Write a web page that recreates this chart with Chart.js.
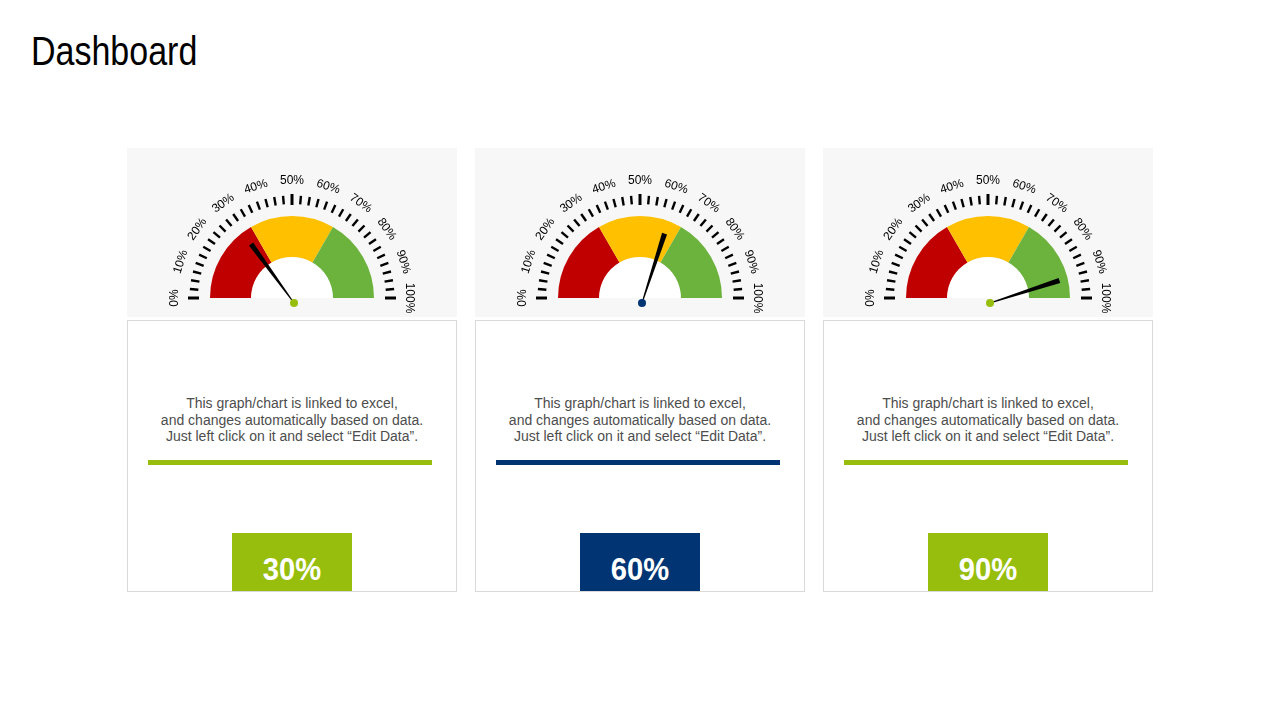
<!DOCTYPE html>
<html>
<head>
<meta charset="utf-8">
<script src="https://cdn.jsdelivr.net/npm/chart.js@4.4.1/dist/chart.umd.min.js"></script>
<style>
  body { margin: 0; width: 1280px; height: 720px; background: #fff; position: relative; overflow: hidden;
         font-family: "Liberation Sans", Arial, sans-serif; }
  h1 { position: absolute; left: 31px; top: 31px; margin: 0; font-weight: normal; font-size: 40px; line-height: 40px;
       font-family: "Liberation Sans", Arial, sans-serif; color: #000;
       transform: scaleX(0.85); transform-origin: 0 0; }
  .panel { position: absolute; top: 148px; width: 330px; height: 169px; background: #f7f7f7; }
  .panel canvas { display: block; }
  .card { position: absolute; top: 320px; width: 328px; height: 270px; border: 1px solid #d9d9d9; background: #fff; }
  .card p { position: absolute; left: 0; right: 0; top: 74px; margin: 0; text-align: center;
            font-size: 14px; line-height: 16.5px; color: #4d4d4d; }
  .card .rule { position: absolute; left: 20px; width: 284px; top: 139px; height: 5px; }
  .card .box { position: absolute; left: 104px; width: 120px; top: 212px; height: 58px; color: #fff;
               font-weight: bold; font-size: 31px; line-height: 58px; text-align: center; }
  .card .box span { position: relative; top: 8px; display: inline-block; transform: scaleX(0.94); }
</style>
</head>
<body>
<h1>Dashboard</h1>
<div id="wrap"></div>
<script>
// gauge readings (percent)
const gaugeValues = [30, 60, 90];
const accentColors = ['#97be0d', '#003473', '#97be0d'];
// dial zones
const zoneLabels = ['Low', 'Medium', 'High'];
const zoneShares = [33.33, 33.33, 33.34];
const zoneColors = ['#c00000', '#ffc000', '#6cb33e'];
// dial labels every 10%
const tickLabels = ['0%', '10%', '20%', '30%', '40%', '50%', '60%', '70%', '80%', '90%', '100%'];
const caption = 'This graph/chart is linked to excel,<br>and changes automatically based on data.<br>Just left click on it and select \u201cEdit Data\u201d.';

const panelLeft = [127, 475, 823];

const dialPlugin = {
  id: 'dial',
  beforeDatasetsDraw(chart) {
    const arc = chart.getDatasetMeta(0).data[0];
    const ctx = chart.ctx;
    ctx.save();
    ctx.fillStyle = '#ffffff';
    ctx.beginPath();
    ctx.arc(arc.x, arc.y, arc.innerRadius, Math.PI, 2 * Math.PI);
    ctx.closePath();
    ctx.fill();
    ctx.restore();
  },
  afterDatasetsDraw(chart, args, opts) {
    const arc = chart.getDatasetMeta(0).data[0];
    const ctx = chart.ctx;
    const cx = arc.x, cy = arc.y, R = arc.outerRadius;
    ctx.save();
    // ticks
    ctx.strokeStyle = '#000';
    ctx.lineCap = 'butt';
    for (let i = 0; i <= 36; i++) {
      const a = Math.PI + i * Math.PI / 36;
      const major = i % 18 === 0;
      const r0 = R + (major ? 11 : 12), r1 = R + (major ? 22 : 20.5);
      ctx.lineWidth = major ? 3 : 2.4;
      ctx.beginPath();
      ctx.moveTo(cx + Math.cos(a) * r0, cy + Math.sin(a) * r0);
      ctx.lineTo(cx + Math.cos(a) * r1, cy + Math.sin(a) * r1);
      ctx.stroke();
    }
    // labels
    ctx.fillStyle = '#000';
    ctx.font = '12px "Liberation Sans", Arial, sans-serif';
    ctx.textAlign = 'center';
    ctx.textBaseline = 'middle';
    const LR = R + 35;
    tickLabels.forEach((t, i) => {
      const a = Math.PI + (i / (tickLabels.length - 1)) * Math.PI;
      ctx.save();
      ctx.translate(cx + Math.cos(a) * LR, cy + Math.sin(a) * LR);
      ctx.rotate(a + Math.PI / 2);
      ctx.fillText(t, 0, 0);
      ctx.restore();
    });
    // needle
    const v = opts.value;
    const a = Math.PI + (v / 100) * Math.PI;
    const px = cx + 2, py = cy + 5;
    const len = 73;
    const ux = Math.cos(a), uy = Math.sin(a);
    const nx = -uy, ny = ux;
    ctx.fillStyle = '#000';
    ctx.beginPath();
    ctx.moveTo(px + nx * 0.5, py + ny * 0.5);
    ctx.lineTo(px + ux * len + nx * 2.6, py + uy * len + ny * 2.6);
    ctx.lineTo(px + ux * len - nx * 2.6, py + uy * len - ny * 2.6);
    ctx.lineTo(px - nx * 0.5, py - ny * 0.5);
    ctx.closePath();
    ctx.fill();
    ctx.fillStyle = opts.color;
    ctx.beginPath();
    ctx.arc(px, py, 4, 0, 2 * Math.PI);
    ctx.fill();
    ctx.restore();
  }
};

const wrap = document.getElementById('wrap');
gaugeValues.forEach((val, k) => {
  const panel = document.createElement('div');
  panel.className = 'panel';
  panel.style.left = panelLeft[k] + 'px';
  const canvas = document.createElement('canvas');
  canvas.width = 330;
  canvas.height = 169;
  panel.appendChild(canvas);
  wrap.appendChild(panel);

  const card = document.createElement('div');
  card.className = 'card';
  card.style.left = panelLeft[k] + 'px';
  card.innerHTML = '<p>' + caption + '</p>' +
    '<div class="rule" style="background:' + accentColors[k] + '"></div>' +
    '<div class="box" style="background:' + accentColors[k] + '"><span>' + val + '%</span></div>';
  wrap.appendChild(card);

  new Chart(canvas, {
    type: 'doughnut',
    data: {
      labels: zoneLabels,
      datasets: [{
        data: zoneShares,
        backgroundColor: zoneColors,
        borderWidth: 0
      }]
    },
    options: {
      responsive: false,
      animation: false,
      events: [],
      circumference: 180,
      rotation: -90,
      radius: 82,
      cutout: '50%',
      layout: { padding: { top: 49, bottom: 0, left: 0, right: 0 } },
      plugins: {
        legend: { display: false },
        tooltip: { enabled: false },
        dial: { value: val, color: accentColors[k] }
      }
    },
    plugins: [dialPlugin]
  });
});
</script>
</body>
</html>
